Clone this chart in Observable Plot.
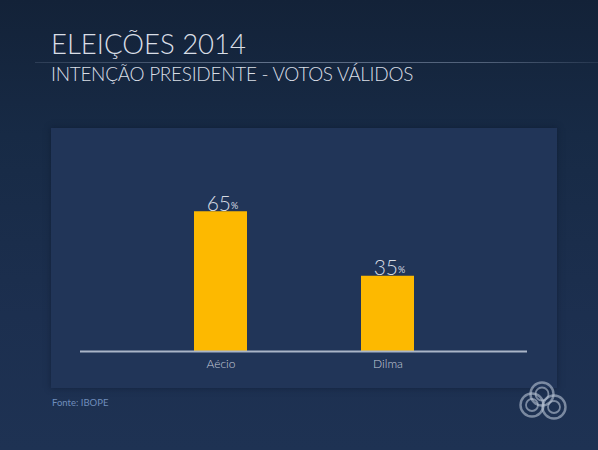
<!DOCTYPE html>
<html>
<head>
<meta charset="utf-8">
<script src="https://cdn.jsdelivr.net/npm/d3@7"></script>
<script src="https://cdn.jsdelivr.net/npm/@observablehq/plot@0.6"></script>
<style>
  html, body { margin: 0; padding: 0; }
  body { width: 598px; height: 450px; overflow: hidden; }
  #stage {
    position: relative; width: 598px; height: 450px; overflow: hidden;
    background: linear-gradient(180deg, #132238 0%, #172a45 30%, #1c2f4f 70%, #1e3253 100%);
    font-family: "Lato", "Open Sans", sans-serif;
  }
  #panel {
    position: absolute; left: 51px; top: 128px; width: 506px; height: 260px;
    background: #213558;
    box-shadow: 0 0 6px rgba(10,20,40,0.5);
  }
  #rule {
    position: absolute; left: 35px; top: 62px; width: 563px; height: 1px;
    background: linear-gradient(90deg, rgba(180,195,220,0.15), rgba(190,205,230,0.45) 40%, rgba(190,205,230,0.35) 80%, rgba(190,205,230,0.1));
  }
  #title {
    position: absolute; left: 51px; top: 30px; margin: 0;
    font-size: 27.5px; font-weight: 300; color: #d9dee6;
    white-space: nowrap; line-height: 1;
  }
  #subtitle {
    position: absolute; left: 51px; top: 64px; margin: 0;
    font-size: 19px; font-weight: 300; color: #d9dee6; letter-spacing: -0.3px;
    white-space: nowrap; line-height: 1;
  }
  #source {
    position: absolute; left: 52px; top: 397px; margin: 0;
    font-size: 9.5px; color: #6f8dbb; white-space: nowrap;
  }
  #chart { position: absolute; left: 0; top: 0; }
  #logo { position: absolute; left: 516px; top: 372px; }
</style>
</head>
<body>
<div id="stage">
  <div id="panel"></div>
  <div id="rule"></div>
  <div id="title">ELEIÇÕES 2014</div>
  <div id="subtitle">INTENÇÃO PRESIDENTE - VOTOS VÁLIDOS</div>
  <div id="chart"></div>
  <div id="source">Fonte: IBOPE</div>
  <svg id="logo" width="60" height="56" viewBox="0 0 60 56">
    <g fill="none" stroke="#b9c4d6" stroke-opacity="0.6">
      <circle cx="26" cy="22" r="11.5" stroke-width="2.4"/>
      <circle cx="26" cy="22" r="6.5" stroke-width="1.8"/>
      <circle cx="16" cy="33" r="11.5" stroke-width="2.4"/>
      <circle cx="16" cy="33" r="6" stroke-width="1.8"/>
      <circle cx="38" cy="35" r="11.5" stroke-width="2.4"/>
      <circle cx="38" cy="35" r="6" stroke-width="1.8"/>
    </g>
  </svg>
</div>
<script>
// Voting intention, valid votes (IBOPE, 2014)
const candidates = ["Aécio", "Dilma"];
const shares = [65, 35];

const data = candidates.map((name, i) => ({name, share: shares[i]}));

const chart = Plot.plot({
  width: 598,
  height: 450,
  marginLeft: 80,
  marginRight: 71,
  marginTop: 136,
  marginBottom: 99,
  style: {background: "transparent", fontFamily: "Lato, 'Open Sans', sans-serif", overflow: "visible"},
  x: {domain: candidates, paddingInner: 0.684, paddingOuter: 0.676, label: null},
  y: {domain: [0, 100], axis: null},
  marks: [
    Plot.barY(data, {x: "name", y: "share", fill: "#fdb900"}),
    Plot.ruleY([0], {stroke: "#aab5c8", strokeWidth: 2}),
    Plot.axisX({tickSize: 0, tickPadding: 8, fontSize: 12, fill: "#c3cad8", color: "#c3cad8", fontWeight: 300}),
    Plot.text(data, {x: "name", y: "share", text: d => String(d.share), textAnchor: "end", lineAnchor: "bottom", dx: 10, dy: -1, fontSize: 21, fill: "#d6dbe3", fontWeight: 300}),
    Plot.text(data, {x: "name", y: "share", text: () => "%", textAnchor: "start", lineAnchor: "bottom", dx: 10, dy: -3, fontSize: 9, fill: "#d6dbe3"})
  ]
});
document.getElementById("chart").appendChild(chart);
</script>
</body>
</html>
